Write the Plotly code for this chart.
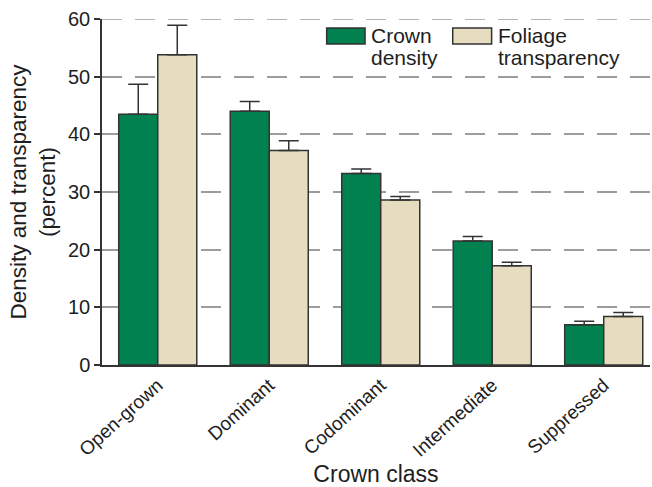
import plotly.graph_objects as go

categories = ["Open-grown", "Dominant", "Codominant", "Intermediate", "Suppressed"]
crown_density = [43.5, 44.0, 33.2, 21.5, 7.0]
crown_density_err = [5.2, 1.7, 0.8, 0.8, 0.6]
foliage_transparency = [53.8, 37.2, 28.6, 17.2, 8.4]
foliage_transparency_err = [5.1, 1.7, 0.6, 0.6, 0.7]
y_ticks = [0, 10, 20, 30, 40, 50, 60]
series_names = [("Crown", "density"), ("Foliage", "transparency")]

GREEN = "#00814f"
BEIGE = "#e6dcbf"
EDGE = "#333333"
TEXT = "#1e1e1e"
GRID = "#9c9c9c"
FONT = "Liberation Sans, Arial, Helvetica, sans-serif"

fig = go.Figure()
fig.add_trace(go.Bar(
    x=categories, y=crown_density, name="Crown density",
    marker=dict(color=GREEN, line=dict(color=EDGE, width=1.5)),
    error_y=dict(type="data", array=crown_density_err, symmetric=False,
                 arrayminus=[0] * len(categories), color=EDGE, thickness=1.5, width=10),
))
fig.add_trace(go.Bar(
    x=categories, y=foliage_transparency, name="Foliage transparency",
    marker=dict(color=BEIGE, line=dict(color=EDGE, width=1.5)),
    error_y=dict(type="data", array=foliage_transparency_err, symmetric=False,
                 arrayminus=[0] * len(categories), color=EDGE, thickness=1.5, width=10),
))

# top gridline (plotly hides the gridline at the range edge)
fig.add_shape(type="line", xref="paper", yref="y", x0=0, x1=1, y0=y_ticks[-1], y1=y_ticks[-1],
              line=dict(color=GRID, width=1.5, dash="20px,13px"), layer="below")

# custom legend (wide rectangular swatches, two-line labels)
legend_items = [
    (GREEN, 0.410, 0.480, 0.488, series_names[0]),
    (BEIGE, 0.640, 0.711, 0.719, series_names[1]),
]
for color, x0, x1, tx, (l1, l2) in legend_items:
    fig.add_shape(type="rect", xref="paper", yref="paper", x0=x0, x1=x1, y0=0.928, y1=0.974,
                  fillcolor=color, line=dict(color=EDGE, width=1.5))
    fig.add_annotation(xref="paper", yref="paper", x=tx, y=0.951, text=l1, showarrow=False,
                       xanchor="left", yanchor="middle", font=dict(size=21, color=TEXT))
    fig.add_annotation(xref="paper", yref="paper", x=tx, y=0.889, text=l2, showarrow=False,
                       xanchor="left", yanchor="middle", font=dict(size=21, color=TEXT))

fig.update_layout(
    width=652, height=487,
    margin=dict(l=102, r=2, t=19, b=122),
    paper_bgcolor="white", plot_bgcolor="white",
    font=dict(family=FONT, size=19, color=TEXT),
    barmode="group", bargap=0.30, bargroupgap=0,
    showlegend=False,
)
fig.update_xaxes(
    range=[-0.5, 4.415], showline=True, linecolor=EDGE, linewidth=1.5,
    ticks="", tickangle=-42, tickfont=dict(size=19), automargin=False,
    title=dict(text="Crown class", font=dict(size=23), standoff=12),
)
fig.update_yaxes(
    range=[0, 60], tickvals=y_ticks, showline=True, linecolor=EDGE, linewidth=1.5,
    ticks="outside", ticklen=6, tickcolor=EDGE, tickwidth=1.5,
    showgrid=True, gridcolor=GRID, griddash="20px,13px", gridwidth=1.5,
    zeroline=False, tickfont=dict(size=20), automargin=False,
    title=dict(text="Density and transparency<br>(percent)", font=dict(size=22.5), standoff=6),
)
fig.write_html("out.html", config={"displayModeBar": False},
               post_script="document.body.style.margin='0';document.body.style.overflow='hidden';")
